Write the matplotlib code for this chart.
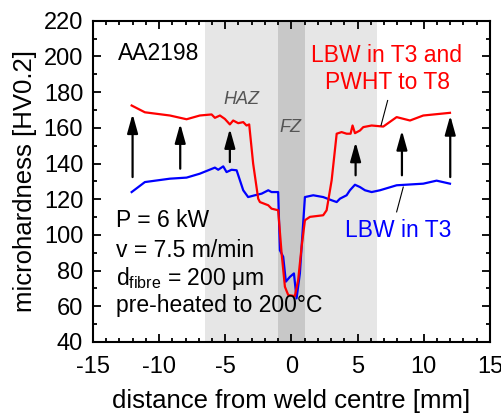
import matplotlib
matplotlib.use('Agg')
import matplotlib.pyplot as plt
from matplotlib.ticker import MultipleLocator

plt.rcParams['font.family'] = ['Liberation Sans', 'DejaVu Sans']
plt.rcParams['mathtext.fontset'] = 'custom'
plt.rcParams['mathtext.rm'] = 'Liberation Sans'
plt.rcParams['axes.unicode_minus'] = False

# hardness profile after PWHT to T8 (red)
x_t8 = [-12.07, -11.07, -9.18, -7.92, -6.92, -6.03, -5.78, -5.4, -5.03, -4.65, -4.40, -4.02,
        -3.64, -3.39, -3.19, -2.89, -2.51, -2.38, -1.75, -1.50, -1.0, -0.74, -0.49, -0.24,
        0.26, 0.51, 0.77, 1.02, 1.40, 2.40, 2.66, 3.04, 3.42, 3.79, 4.17, 4.47, 4.62, 4.8,
        5.18, 5.43, 6.06, 6.94, 7.95, 8.96, 9.96, 11.98]
hv_t8 = [172.5, 168.7, 166.9, 164.8, 166.9, 167.5, 165.6, 166.9, 165.0, 161.9, 164.1, 162.6,
         163.2, 161.3, 161.9, 139.9, 120.3, 118.4, 116.6, 114.7, 113.8, 89.6, 70.9, 66.3,
         65.7, 74.7, 93.3, 108.2, 110.1, 111.0, 113.8, 130.6, 156.7, 157.6, 156.7, 156.7, 161.3, 157.0,
         158.5, 160.4, 161.3, 160.7, 166.0, 164.1, 166.9, 168.4]

# hardness profile as welded in T3 (blue)
x_t3 = [-12.07, -11.07, -9.18, -7.92, -6.92, -5.78, -5.53, -5.15, -4.90, -4.52, -4.14, -3.89,
        -3.64, -3.27, -2.76, -2.25, -1.75, -1.50, -1.0, -0.87, -0.62, -0.42, -0.11, 0.19,
        0.39, 0.64, 0.77, 1.02, 1.65, 2.40, 3.04, 3.42, 3.67, 4.17, 4.42, 4.8, 5.18, 5.56,
        6.06, 6.69, 7.95, 9.96, 10.97, 11.98]
hv_t3 = [124.0, 129.6, 131.5, 132.1, 134.3, 137.7, 136.5, 138.4, 135.2, 136.5, 136.2, 130.6,
         125.0, 121.2, 122.2, 123.1, 125.0, 124.0, 124.0, 91.4, 87.7, 73.8, 76.5, 78.4,
         64.4, 78.4, 93.3, 121.2, 122.2, 121.2, 119.4, 118.4, 120.3, 122.2, 125.0, 128.1, 126.8, 125.0,
         124.0, 125.0, 127.8, 128.7, 130.4, 128.7]

# arrows showing the hardness increase: position, start, end
arrow_x = [-12.0, -8.4, -4.65, 4.85, 8.35, 12.0]
arrow_from = [132.4, 137.1, 140.8, 133.4, 133.4, 132.4]
arrow_to = [167.8, 162.3, 159.5, 152.0, 158.5, 166.9]

haz = (-6.5, 6.5)
fz = (-1.0, 1.0)

fig = plt.figure(figsize=(5.02, 4.15), dpi=100)
ax = fig.add_axes([0.185, 0.176, 0.791, 0.774])

ax.axvspan(*haz, color='#e6e6e6', lw=0, zorder=0)
ax.axvspan(*fz, color='#c8c8c8', lw=0, zorder=0)

ax.plot(x_t3, hv_t3, color='#0000ff', lw=1.6, zorder=3)
ax.plot(x_t8, hv_t8, color='#ff0000', lw=1.6, zorder=3)

for xa, y0, y1 in zip(arrow_x, arrow_from, arrow_to):
    ax.annotate('', xy=(xa, y1), xytext=(xa, y0),
                arrowprops=dict(arrowstyle='-|>,head_length=1.15,head_width=0.32',
                                color='black', lw=1.6, mutation_scale=10,
                                shrinkA=0, shrinkB=0), zorder=4)

fs = 16.5
ax.text(-13.1, 201.5, 'AA2198', fontsize=fs, va='center', ha='left')
ax.text(7.2, 200.4, 'LBW in T3 and', fontsize=fs, color='#ff0000', va='center', ha='center')
ax.text(7.25, 185.5, 'PWHT to T8', fontsize=fs, color='#ff0000', va='center', ha='center')
ax.text(8.07, 102.6, 'LBW in T3', fontsize=fs, color='#0000ff', va='center', ha='center')
ax.plot([6.77, 7.27], [161.3, 175.3], color='black', lw=0.8, zorder=4)
ax.plot([8.45, 7.95], [126.8, 112.9], color='black', lw=0.8, zorder=4)

ax.text(-3.76, 175.7, 'HAZ', fontsize=13, style='italic', color='#555555', ha='center', va='center')
ax.text(-0.1, 160.4, 'FZ', fontsize=13, style='italic', color='#555555', ha='center', va='center')

ax.text(-13.26, 108.2, 'P = 6 kW', fontsize=fs, va='center', ha='left')
ax.text(-13.26, 91.4, 'v = 7.5 m/min', fontsize=fs, va='center', ha='left')
ax.text(-13.26, 75.6, r'd$_{\mathrm{fibre}}$ = 200 μm', fontsize=fs, va='center', ha='left')
ax.text(-13.26, 60.7, 'pre-heated to 200°C', fontsize=fs, va='center', ha='left')

ax.set_xlim(-15, 15)
ax.set_ylim(40, 220)
ax.xaxis.set_major_locator(MultipleLocator(5))
ax.xaxis.set_minor_locator(MultipleLocator(1))
ax.yaxis.set_major_locator(MultipleLocator(20))
ax.yaxis.set_minor_locator(MultipleLocator(10))
ax.tick_params(which='both', direction='in', top=True, right=True, width=1.3, labelsize=17)
ax.tick_params(axis='x', pad=10)
ax.tick_params(axis='y', pad=7)
ax.tick_params(which='major', length=6)
ax.tick_params(which='minor', length=3)
for sp in ax.spines.values():
    sp.set_linewidth(1.5)

ax.set_xlabel('distance from weld centre [mm]', fontsize=18.5, labelpad=8)
ax.set_ylabel('microhardness [HV0.2]', fontsize=18.5, labelpad=5)

fig.savefig('out.png', dpi=100)
